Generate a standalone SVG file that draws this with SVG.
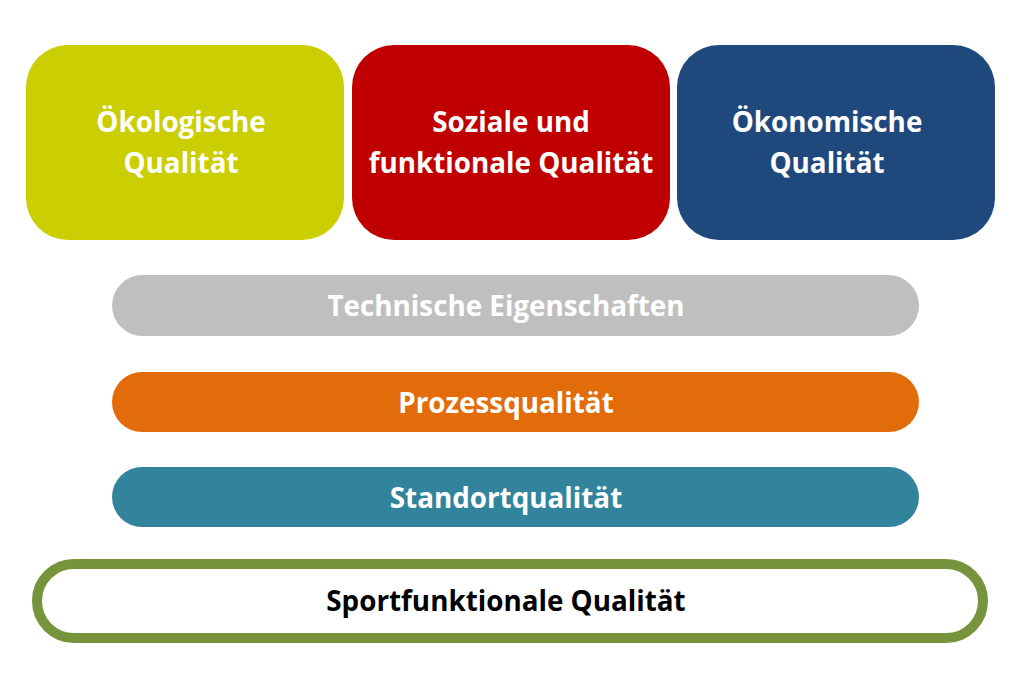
<svg xmlns="http://www.w3.org/2000/svg" width="1024" height="681" viewBox="0 0 1024 681">
<style>
.t{font-family:"Open Sans","Liberation Sans",sans-serif;font-weight:bold;font-size:27.8px;text-anchor:middle;fill:#fff}
.k{fill:#000}
</style>
<rect width="1024" height="681" fill="#fff"/>
<g id="oekologisch">
<rect x="26" y="45" width="318" height="195" rx="42" fill="#cbce00"/>
<text class="t" x="181" y="132">Ökologische</text>
<text class="t" x="181" y="173">Qualität</text>
</g>
<g id="sozial">
<rect x="352" y="45" width="318" height="195" rx="42" fill="#c00000"/>
<text class="t" x="511" y="132">Soziale und</text>
<text class="t" x="511" y="173">funktionale Qualität</text>
</g>
<g id="oekonomisch">
<rect x="677" y="45" width="318" height="195" rx="42" fill="#1f497d"/>
<text class="t" x="827" y="132">Ökonomische</text>
<text class="t" x="827" y="173">Qualität</text>
</g>
<g id="technisch">
<rect x="112" y="275" width="807" height="61" rx="30.5" fill="#bfbfbf"/>
<text class="t" x="506" y="316">Technische Eigenschaften</text>
</g>
<g id="prozess">
<rect x="112" y="372" width="807" height="60" rx="30" fill="#e36c0a"/>
<text class="t" x="506" y="413">Prozessqualität</text>
</g>
<g id="standort">
<rect x="112" y="467" width="807" height="60" rx="30" fill="#31849b"/>
<text class="t" x="506" y="508">Standortqualität</text>
</g>
<g id="sport">
<rect x="37" y="564" width="946" height="74" rx="37" fill="#fff" stroke="#77933c" stroke-width="10"/>
<text class="t k" x="506" y="611">Sportfunktionale Qualität</text>
</g>
<g id="connectors"/>
</svg>
